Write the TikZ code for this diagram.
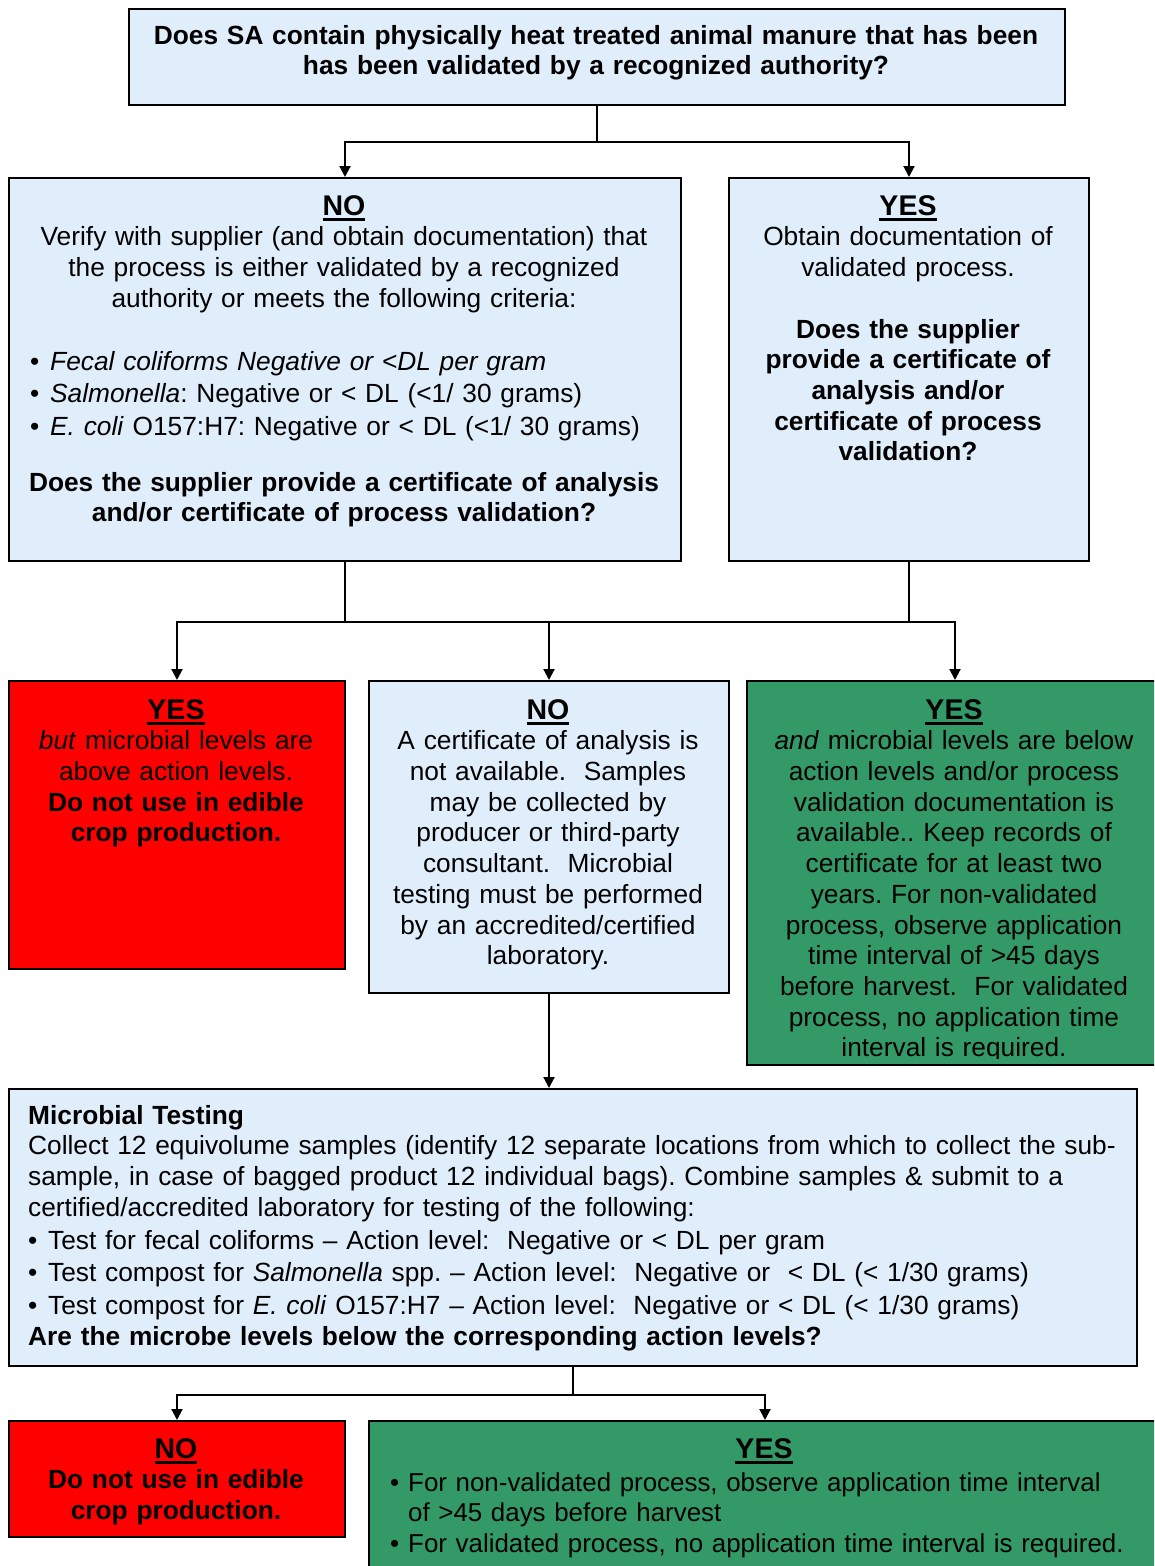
\documentclass[tikz,border=0pt]{standalone}
\usepackage{fontspec}
\setmainfont{Liberation Sans}
\usetikzlibrary{arrows.meta}
\definecolor{lblue}{RGB}{224,238,252}
\definecolor{grn}{RGB}{51,153,102}
\definecolor{rd}{RGB}{255,0,0}
\newcommand\myfs{\fontsize{26.3}{30.7}\selectfont\frenchspacing}
\newcommand\myul[1]{{\fontsize{28.5}{30.7}\selectfont\bfseries\setbox0\hbox{#1}\rlap{\rule[-6pt]{\wd0}{3.6pt}}\box0}}
\newcommand\bul{\makebox[20pt][l]{•}}
\begin{document}
\begin{tikzpicture}[x=1pt,y=-1pt,
  box/.style={draw=black, line width=2pt, inner sep=0pt, anchor=north west},
  conn/.style={line width=2pt, -{Triangle[width=11pt,length=11pt]}},
  link/.style={line width=2pt},
  txt/.style={inner sep=0pt, anchor=north, align=center, font=\myfs},
  ltxt/.style={inner sep=0pt, anchor=north west, align=left, font=\myfs},
]
\useasboundingbox (0,0) rectangle (1154,1566);
\clip (0,0) rectangle (1154,1566);
% boxes
\node[box, fill=lblue, minimum width=936pt, minimum height=96pt] (q1) at (128,8) {};
\node[box, fill=lblue, minimum width=672pt, minimum height=383pt] (no1) at (8,177) {};
\node[box, fill=lblue, minimum width=360pt, minimum height=383pt] (yes1) at (728,177) {};
\node[box, fill=rd, minimum width=336pt, minimum height=288pt] (r1) at (8,680) {};
\node[box, fill=lblue, minimum width=360pt, minimum height=312pt] (m1) at (368,680) {};
\node[box, fill=grn, minimum width=416pt, minimum height=384pt] (g1) at (746,680) {};
\node[box, fill=lblue, minimum width=1128pt, minimum height=277pt] (mt) at (8,1088) {};
\node[box, fill=rd, minimum width=336pt, minimum height=116pt] (r2) at (8,1420) {};
\node[box, fill=grn, minimum width=792pt, minimum height=170pt] (g2) at (368,1420) {};
% connectors
\draw[link] (q1.south) -- ++(0,36) coordinate (j1);
\draw[conn] (j1) -| (no1.north);
\draw[conn] (j1) -| (yes1.north);
\draw[link] (no1.south) -- ++(0,60) coordinate (j2);
\draw[link] (yes1.south) -- ++(0,60) coordinate (j3);
\draw[link] (j2) -- (j3);
\draw[conn] (j2) -| (r1.north);
\draw[conn] (j2) -| (m1.north);
\draw[conn] (j3) -| (g1.north);
\draw[conn] (m1.south) -- (m1.south |- mt.north);
\draw[link] (mt.south) -- ++(0,28) coordinate (j4);
\draw[conn] (j4) -| (r2.north);
\draw[conn] (j4) -| (g2.north);
% texts
\node[txt, text width=930pt, font=\myfs\bfseries] (t1) at (596,22.5) {\strut Does SA contain physically heat treated animal manure that has been\\has been validated by a recognized authority?};
\node[txt, text width=660pt] (t2) at (344,193.5) {\strut\myul{NO}\\Verify with supplier (and obtain documentation) that\\the process is either validated by a recognized\\authority or meets the following criteria:};
\node[ltxt, text width=640pt, font=\fontsize{26.3}{32.5}\selectfont\frenchspacing] (t3) at (30,347.3) {\strut\bul\textit{Fecal coliforms Negative or <DL per gram}\\\bul\textit{Salmonella}: Negative or < DL (<1/ 30 grams)\\\bul\textit{E. coli} O157:H7: Negative or < DL (<1/ 30 grams)};
\node[txt, text width=660pt, font=\myfs\bfseries] (t4) at (344,469.5) {\strut Does the supplier provide a certificate of analysis\\and/or certificate of process validation?};
\node[txt, text width=350pt] (t5) at (908,193.5) {\strut\myul{YES}\\Obtain documentation of\\validated process.};
\node[txt, text width=350pt, font=\myfs\bfseries] (t6) at (908,316.5) {\strut Does the supplier\\provide a certificate of\\analysis and/or\\certificate of process\\validation?};
\node[txt, text width=330pt] (t7) at (176,697.5) {\strut\myul{YES}\\\textit{but} microbial levels are\\above action levels.\\\textbf{Do not use in edible}\\\textbf{crop production.}};
\node[txt, text width=350pt] (t8) at (548,697.5) {\strut\myul{NO}\\A certificate of analysis is\\not available.~ Samples\\may be collected by\\producer or third-party\\consultant.~ Microbial\\testing must be performed\\by an accredited/certified\\laboratory.};
\begin{scope}
\clip (746,680) rectangle (1160,1058);
\node[txt, text width=400pt] (t9) at (954,697.5) {\strut\myul{YES}\\\textit{and} microbial levels are below\\action levels and/or process\\validation documentation is\\available.. Keep records of\\certificate for at least two\\years. For non-validated\\process, observe application\\time interval of >45 days\\before harvest.~ For validated\\process, no application time\\interval is required.};
\end{scope}
\node[ltxt, text width=1100pt] (t10) at (28,1102.5) {\strut\textbf{Microbial Testing}\\Collect 12 equivolume samples (identify 12 separate locations from which to collect the sub-\\sample, in case of bagged product 12 individual bags). Combine samples \& submit to a\\certified/accredited laboratory for testing of the following:};
\node[ltxt, text width=1100pt, font=\fontsize{26.3}{32.5}\selectfont\frenchspacing] (t11) at (28,1226.3) {\strut\bul Test for fecal coliforms -- Action level:~ Negative or < DL per gram\\\bul Test compost for \textit{Salmonella} spp. -- Action level:~ Negative or~ < DL (< 1/30 grams)\\\bul Test compost for \textit{E. coli} O157:H7 -- Action level:~ Negative or < DL (< 1/30 grams)};
\node[ltxt, text width=1100pt, font=\myfs\bfseries] (t12) at (28,1323.5) {\strut Are the microbe levels below the corresponding action levels?};
\node[txt, text width=330pt] (t13) at (176,1436.5) {\strut\myul{NO}\\\textbf{Do not use in edible}\\\textbf{crop production.}};
\node[txt, text width=780pt] (t14) at (764,1436.5) {\strut\myul{YES}};
\node[ltxt, text width=770pt, font=\fontsize{25.9}{30.7}\selectfont\frenchspacing] (t15) at (390,1469.5) {\strut\makebox[18pt][l]{•}For non-validated process, observe application time interval\\\hspace*{18pt}of >45 days before harvest\\\makebox[18pt][l]{•}For validated process, no application time interval is required.};
\end{tikzpicture}
\end{document}
